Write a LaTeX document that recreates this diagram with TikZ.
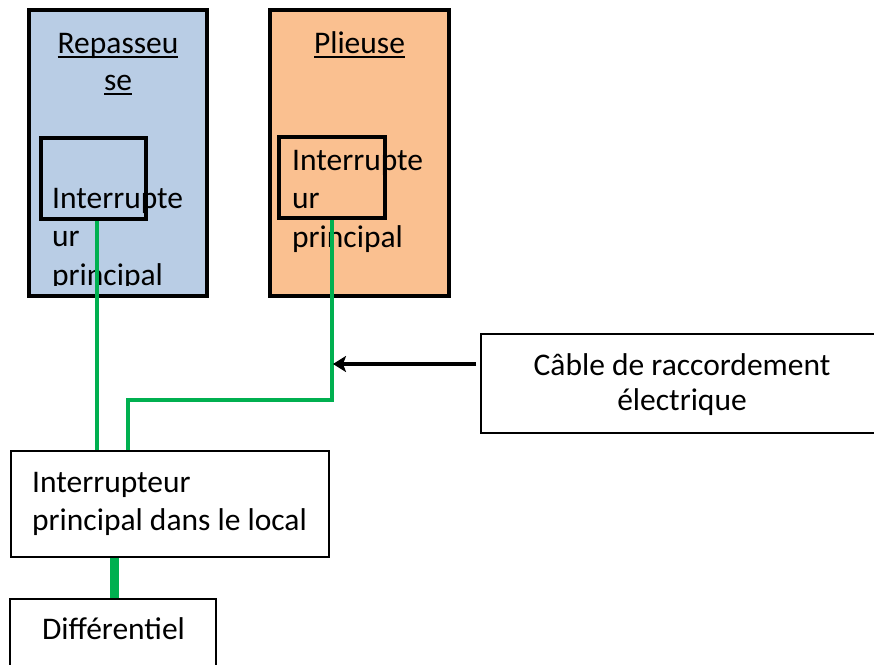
\documentclass[tikz,border=0pt]{standalone}
\usepackage{fontspec}
\setmainfont{Carlito}
\usetikzlibrary{arrows.meta}
\definecolor{boxblue}{HTML}{B9CDE5}
\definecolor{boxorange}{HTML}{FAC090}
\definecolor{wiregreen}{HTML}{00B050}
\newcommand\myul[1]{\setbox0\hbox{#1}\rlap{\rule[-4.5pt]{\wd0}{1.8pt}}#1}
\newcommand\lines[1]{\begin{tabular}[t]{@{}l@{}}#1\end{tabular}}
\newcommand\clines[1]{\begin{tabular}[t]{@{}c@{}}#1\end{tabular}}
\begin{document}
\begin{tikzpicture}[x=1pt,y=-1pt,
  machine/.style={draw=black,line width=4.5pt,inner sep=0pt},
  switchbox/.style={draw=black,line width=4pt,inner sep=0pt},
  plainbox/.style={draw=black,line width=2pt,fill=white,inner sep=0pt},
  label/.style={inner sep=0pt,font=\fontsize{31.5}{38.8}\selectfont},
  wire/.style={draw=wiregreen,line width=4pt},
  thickwire/.style={draw=wiregreen,line width=9pt},
  pointer/.style={draw=black,line width=4pt,-{Stealth[length=13pt,width=16pt,inset=3pt]}}]
\useasboundingbox (0,0) rectangle (874,664);
% machines
\node[machine,fill=boxblue,minimum width=178pt,minimum height=286pt] (rep) at (118,153) {};
\node[machine,fill=boxorange,minimum width=179pt,minimum height=286pt] (pli) at (359.5,153) {};
% titles
\node[label,anchor=base] (reptitle) at (118,53) {\fontsize{31.5}{37}\selectfont\clines{\myul{Repasseu}\\ \myul{se}}};
\node[label,anchor=base] (plititle) at (359.5,53) {\myul{Plieuse}};
% inner texts
\begin{scope}
\clip (32,100) rectangle (206,285.5);
\node[label,anchor=base west] (reptext) at (52,208) {\lines{Interrupte\\ ur\\ principal}};
\end{scope}
\node[label,anchor=base west] (plitext) at (292,170) {\lines{Interrupte\\ ur\\ principal}};
% inner switch boxes
\node[switchbox,minimum width=105pt,minimum height=81pt] (repsw) at (93.5,178.5) {};
\node[switchbox,minimum width=106pt,minimum height=81pt] (plisw) at (332,177.5) {};
% other boxes
\node[plainbox,minimum width=403pt,minimum height=99pt] (cable) at (682.5,383.5) {};
\node[label,anchor=base] (cabletext) at (682,375) {\fontsize{31.5}{35}\selectfont\clines{Câble de raccordement\\ électrique}};
\node[plainbox,minimum width=318pt,minimum height=106pt] (local) at (170,504) {};
\node[label,anchor=base west] (localtext) at (32,492) {\lines{Interrupteur\\ principal dans le local}};
\node[plainbox,minimum width=206pt,minimum height=101pt] (diff) at (113,649.5) {};
\node[label,anchor=base] (difftext) at (113.5,639) {Différentiel};
% wires
\coordinate (repdrop) at (97,0);
\draw[wire] (repsw.south -| repdrop) -- (local.north -| repdrop);
\coordinate (bend) at (128,400);
\draw[wire] (plisw.south) |- (bend) -- (bend |- local.north);
\coordinate (feed) at (114,0);
\draw[thickwire] (local.south -| feed) -- (diff.north -| feed);
% pointer
\coordinate (tip) at (333,364);
\coordinate (tail) at (476,364);
\draw[pointer] (tail) -- (tip);
\end{tikzpicture}
\end{document}
